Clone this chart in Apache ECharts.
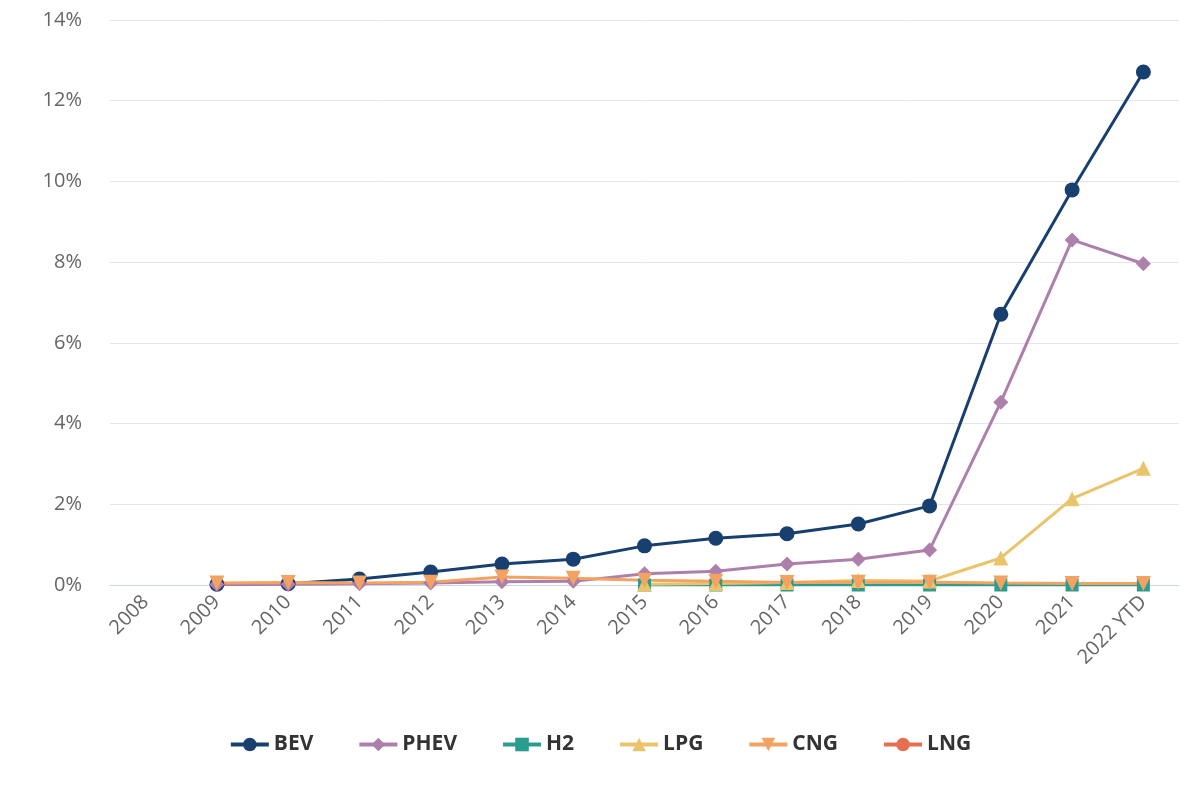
<!DOCTYPE html>
<html>
<head>
<meta charset="utf-8">
<script src="https://cdn.jsdelivr.net/npm/echarts@6/dist/echarts.min.js"></script>
<style>html,body{margin:0;padding:0;background:#fff}#c{width:1200px;height:800px}</style>
</head>
<body>
<div id="c"></div>
<script>
const categories = ['2008','2009','2010','2011','2012','2013','2014','2015','2016','2017','2018','2019','2020','2021','2022 YTD'];
const bev  = [null,0.02,0.03,0.15,0.32,0.52,0.64,0.97,1.16,1.27,1.51,1.96,6.71,9.79,12.71];
const phev = [null,0.01,0.02,0.03,0.05,0.08,0.09,0.28,0.34,0.52,0.64,0.87,4.53,8.55,7.96];
const h2   = [null,null,null,null,null,null,null,0.0,0.0,0.0,0.0,0.0,0.0,0.0,0.0];
const lpg  = [null,null,null,null,null,null,null,0.02,0.04,0.06,0.11,0.1,0.67,2.14,2.89];
const cng  = [null,0.05,0.06,0.05,0.07,0.2,0.17,0.12,0.09,0.06,0.07,0.07,0.05,0.04,0.04];
const lng  = [null,null,null,null,null,null,null,null,null,null,null,null,null,null,null];
const yTicks = [0,2,4,6,8,10,12,14];

const seriesDefs = [
  {name:'BEV', data:bev, color:'#173f6f', symbol:'circle', size:15},
  {name:'PHEV', data:phev, color:'#ad7fab', symbol:'diamond', size:15},
  {name:'H2', data:h2, color:'#2a9d8f', symbol:'rect', size:13},
  {name:'LPG', data:lpg, color:'#e9c46a', symbol:'triangle', size:15},
  {name:'CNG', data:cng, color:'#f4a261', symbol:'path://M0,0 L10,0 L5,10 Z', size:15},
  {name:'LNG', data:lng, color:'#e76f51', symbol:'circle', size:15}
];

const chart = echarts.init(document.getElementById('c'));
chart.setOption({
  animation:false,
  grid:{left:110,right:21,top:20,bottom:215,containLabel:false},
  legend:{
    bottom:40,left:'center',itemGap:44,itemWidth:38,itemHeight:17,
    lineStyle:{width:4},
    textStyle:{fontFamily:'Open Sans',fontWeight:'bold',fontSize:21,color:'#333'},
    data:seriesDefs.map(s=>s.name)
  },
  xAxis:{
    type:'category',data:categories,boundaryGap:true,
    axisLine:{lineStyle:{color:'#ccd6eb',width:1}},
    axisTick:{show:false},
    axisLabel:{rotate:45,fontFamily:'Open Sans',fontSize:20,color:'#666',margin:14,interval:0}
  },
  yAxis:{
    type:'value',min:0,max:14,interval:2,
    axisLine:{show:false},axisTick:{show:false},
    splitLine:{lineStyle:{color:'#e6e6e6',width:1}},
    axisLabel:{formatter:v=>yTicks.includes(v)?v+'%':'',fontFamily:'Open Sans',fontSize:20,color:'#666',margin:28}
  },
  series:seriesDefs.map(s=>({
    name:s.name,type:'line',data:s.data,symbol:s.symbol,symbolSize:s.size,
    connectNulls:false,
    lineStyle:{color:s.color,width:3},
    itemStyle:{color:s.color},
    emphasis:{disabled:true}
  }))
});
</script>
</body>
</html>
